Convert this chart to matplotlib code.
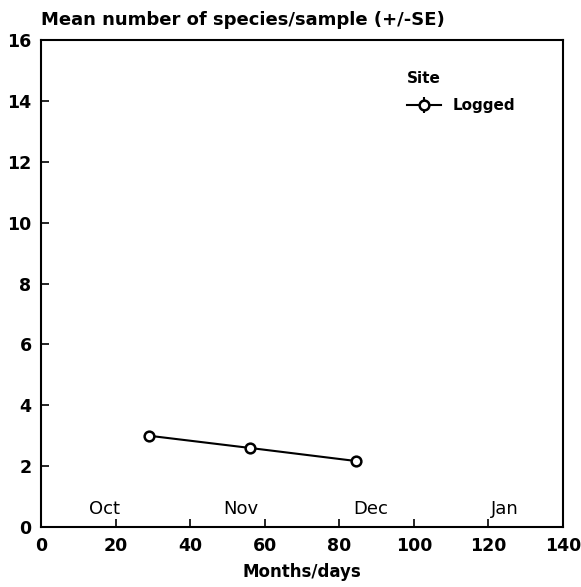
import matplotlib.pyplot as plt

days = [29, 56, 84.5]
mean_species = [3.0, 2.6, 2.17]
se = [0.1, 0.1, 0.1]
months = ["Oct", "Nov", "Dec", "Jan"]
month_pos = [17, 53.5, 88.5, 124.5]

plt.rcParams['font.family'] = 'DejaVu Sans'

fig = plt.figure(figsize=(5.81, 5.87), dpi=100)
ax = fig.add_axes([0.071, 0.102, 0.898, 0.830])

ax.errorbar(days, mean_species, yerr=se, fmt="-o", color="black", mfc="white",
            mec="black", ms=7, mew=1.8, lw=1.5, capsize=0, label="Logged")

for m, p in zip(months, month_pos):
    ax.text(p, 0.6, m, ha="center", va="center", fontsize=13)

ax.set_xlim(0, 140)
ax.set_ylim(0, 16)
ax.set_xticks(range(0, 141, 20))
ax.set_yticks(range(0, 17, 2))
ax.tick_params(direction="in", length=6, width=1.2, labelsize=12.5, pad=7)
for lab in ax.get_xticklabels() + ax.get_yticklabels():
    lab.set_fontweight("bold")
for s in ax.spines.values():
    s.set_linewidth(1.5)

ax.set_xlabel("Months/days", fontsize=12, fontweight="bold", labelpad=6)
ax.text(0, 1.022, "Mean number of species/sample (+/-SE)", transform=ax.transAxes,
        fontsize=13, fontweight="bold", ha="left", va="bottom")

leg = ax.legend(title="Site", loc="upper left", bbox_to_anchor=(0.675, 0.965),
                frameon=False, fontsize=11, handlelength=2.2, handletextpad=0.8,
                labelspacing=0.8)
leg.get_title().set_fontweight("bold")
leg.get_title().set_fontsize(11)
leg._legend_box.align = "left"
leg._legend_box.sep = 9
for t in leg.get_texts():
    t.set_fontweight("bold")

fig.savefig("out.png", dpi=100)
